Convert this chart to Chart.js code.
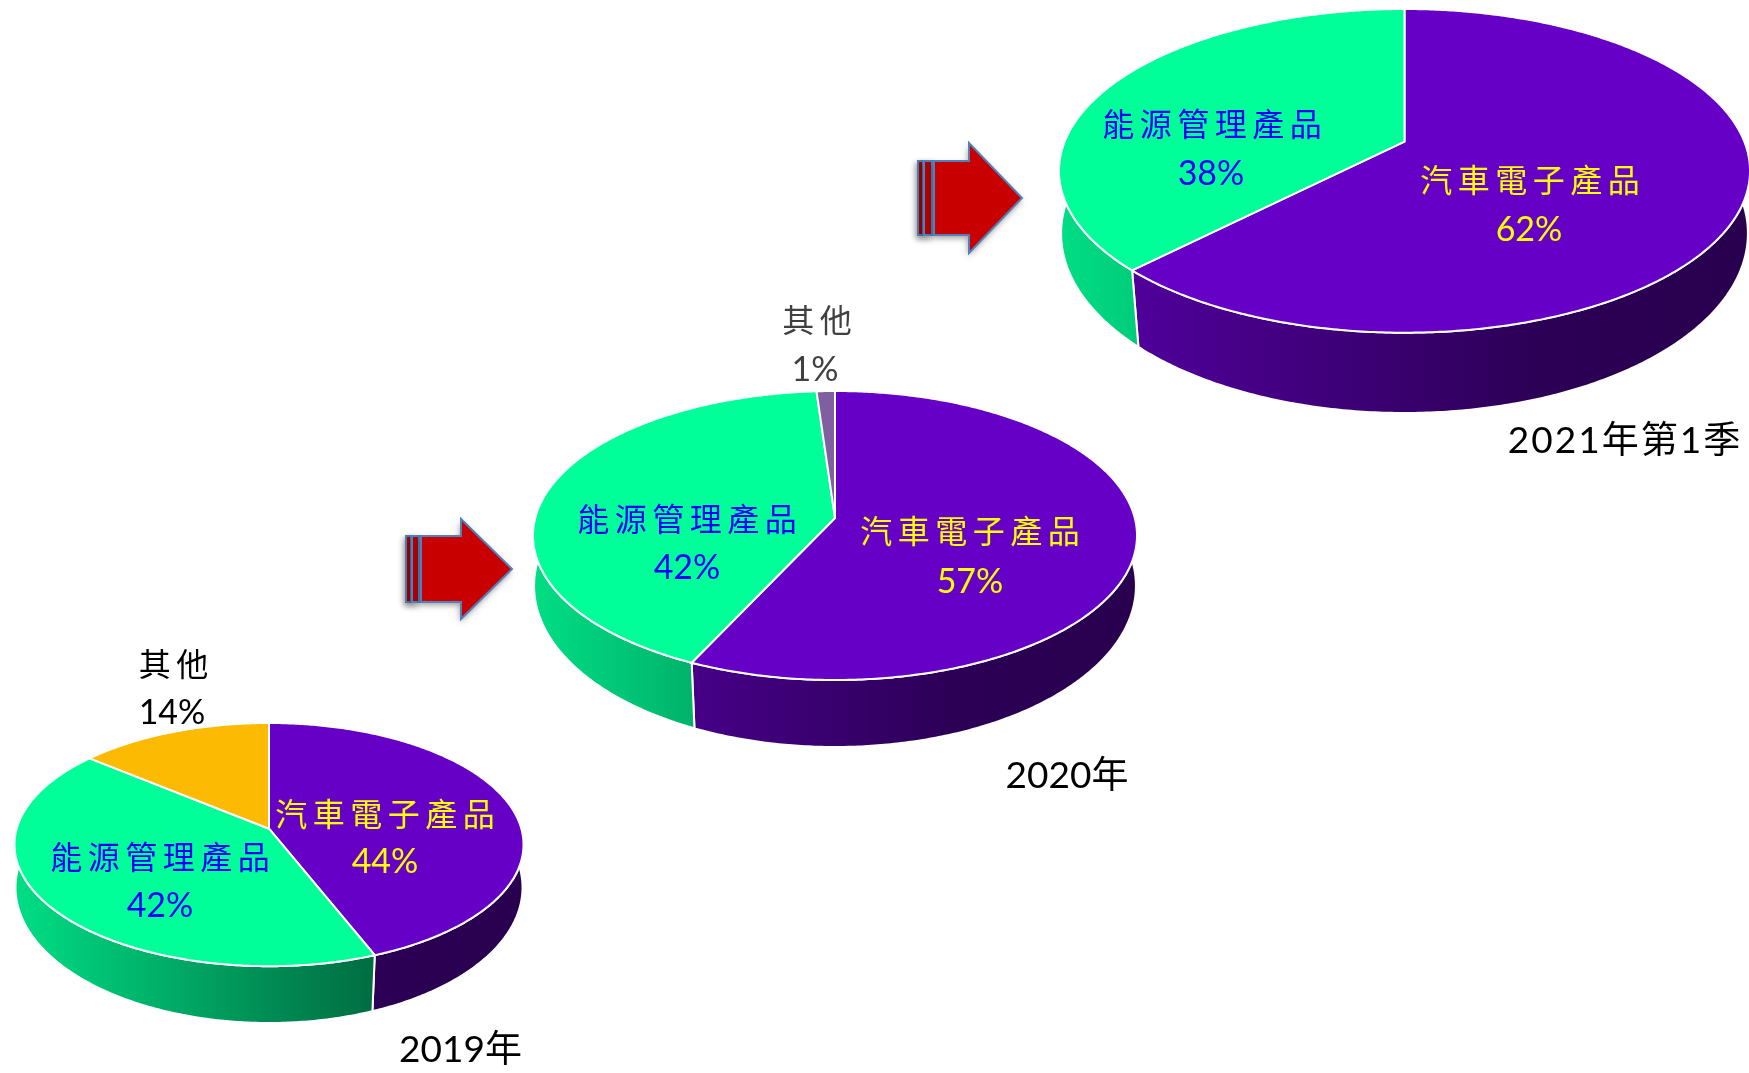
<!DOCTYPE html>
<html>
<head>
<meta charset="utf-8">
<title>產品比重</title>
<style>
  html, body { margin: 0; background: #fff; }
  canvas { display: block; }
</style>
<script src="https://cdn.jsdelivr.net/npm/chart.js@4"></script>
</head>
<body>
<canvas id="pies" width="1749" height="1073"></canvas>
<script>
const categories = ['汽車電子產品', '能源管理產品', '其他'];
const yearLabels = ['2019年', '2020年', '2021年第1季'];
const values2019 = [44, 42, 14];
const values2020 = [57, 41.9, 1.1];
const values2021 = [62.3, 37.7, 0];
const colors2019 = ['#6600c6', '#00ff99', '#fcbb02'];
const colors2020 = ['#6600c6', '#00ff99', '#7f5f9f'];
const colors2021 = ['#6600c6', '#00ff99', '#7f5f9f'];

// where each pie sits: apex, half width, top and bottom reach, lowest point of the wall
const pieLayout = [
    { x: 269, y: 828.7, halfW: 254.5, top: 105.7, bottom: 137.5, lowest: 194.3 },
    { x: 835, y: 518, halfW: 302, top: 127, bottom: 162, lowest: 229 },
    { x: 1404.5, y: 141.7, halfW: 345.5, top: 132.7, bottom: 191, lowest: 271.3 }
];

// label anchors per pie, per category: [name x, name y, value x, value y]
const labelSpots = [
    [[385, 814, 385, 862], [160, 857, 160, 906], [173.5, 664, 172, 713]],
    [[970, 531, 970, 582], [687, 519, 687, 568], [817, 320, 815, 370]],
    [[1530, 180, 1529, 230], [1212, 124, 1211, 174], null]
];
const labelColors = ['#ffff00', '#0000ff', '#000000'];
const otherColors = ['#000000', '#404040', '#000000'];
const yearSpots = [[460.5, 1050], [1067, 776], [1624, 441]];

// block arrows: stem left, stripe ends, main start, head base, tip, mid y, half head, half stem
const arrows = [
    { left: 406, s1: 411, s2: 412, s3: 419, main: 421, base: 461, tip: 512, mid: 569, head: 50, stem: 33 },
    { left: 918, s1: 923, s2: 924, s3: 932, main: 934, base: 969, tip: 1022, mid: 198, head: 55, stem: 37 }
];

const latin = 'Lato, "Noto Sans CJK TC"';
const cjk = '"Noto Sans CJK TC", Lato';

function shade(hex, f) {
    const n = parseInt(hex.slice(1), 16);
    const r = Math.round((n >> 16 & 255) * f);
    const g = Math.round((n >> 8 & 255) * f);
    const b = Math.round((n & 255) * f);
    return `rgb(${r},${g},${b})`;
}

// perspective of a round disk seen from above
function projector(x, y, rx, ry, k) {
    return (theta) => {
        const u = Math.sin(theta);
        const v = -Math.cos(theta);
        const w = 1 - k * v;
        return [x + rx * u / w, y + ry * v / w];
    };
}

function arcPoints(project, from, to) {
    const steps = Math.max(2, Math.ceil(Math.abs(to - from) / 0.01));
    const pts = [];
    for (let i = 0; i <= steps; i++) {
        pts.push(project(from + (to - from) * i / steps));
    }
    return pts;
}

function tracePath(ctx, pts) {
    ctx.beginPath();
    pts.forEach((pt, i) => (i ? ctx.lineTo(pt[0], pt[1]) : ctx.moveTo(pt[0], pt[1])));
    ctx.closePath();
}

function drawPie(chart, index) {
    const ctx = chart.ctx;
    const p = pieLayout[index];
    const meta = chart.getDatasetMeta(index);
    const k = (p.bottom - p.top) / (p.bottom + p.top);
    const ry = p.bottom * (1 - k);
    const rx = p.halfW * Math.sqrt(1 - k * k);
    const topFace = projector(p.x, p.y, rx, ry, k);
    // the foot of the wall has less perspective than the rim
    const lowK = k * 0.85;
    const lowRy = ry * 1.12;
    const drop = p.lowest - lowRy / (1 - lowK);
    const lowFace = projector(p.x, p.y + drop, rx * 0.9985, lowRy, lowK);
    const slices = meta.data
        .map((arc, i) => {
            const a = arc.getProps(['startAngle', 'endAngle'], true);
            return { i, color: arc.options.backgroundColor, from: a.startAngle + Math.PI / 2, to: a.endAngle + Math.PI / 2 };
        })
        .filter(s => s.to - s.from > 0.0001);

    ctx.lineJoin = 'round';
    // walls first, the top face hides whatever is at the back
    slices.forEach(s => {
        const grad = ctx.createLinearGradient(p.x - p.halfW, 0, p.x + p.halfW, 0);
        grad.addColorStop(0, shade(s.color, s.i === 0 ? 0.84 : 0.87));
        grad.addColorStop(0.5, shade(s.color, 0.55));
        grad.addColorStop(0.7, shade(s.color, 0.43));
        grad.addColorStop(1, shade(s.color, 0.4));
        const pts = arcPoints(topFace, s.from, s.to).concat(arcPoints(lowFace, s.to, s.from));
        tracePath(ctx, pts);
        ctx.fillStyle = grad;
        ctx.fill();
        ctx.strokeStyle = '#fff';
        ctx.lineWidth = 2;
        ctx.stroke();
    });
    slices.forEach(s => {
        const pts = [[p.x, p.y]].concat(arcPoints(topFace, s.from, s.to));
        tracePath(ctx, pts);
        ctx.fillStyle = s.color;
        ctx.fill();
        ctx.strokeStyle = '#fff';
        ctx.lineWidth = 2;
        ctx.stroke();
    });
}

function drawArrow(ctx, a) {
    const top = a.mid - a.stem;
    const low = a.mid + a.stem;
    ctx.save();
    ctx.lineWidth = 2;
    ctx.lineJoin = 'miter';
    ctx.fillStyle = '#c80000';
    ctx.strokeStyle = '#4f81bd';
    ctx.shadowColor = 'rgba(0,0,0,0.4)';
    ctx.shadowBlur = 6;
    ctx.shadowOffsetX = -1;
    ctx.shadowOffsetY = 3;
    [[a.left, a.s1], [a.s2, a.s3]].forEach(strip => {
        ctx.fillRect(strip[0], top, strip[1] - strip[0], low - top);
        ctx.strokeRect(strip[0], top, strip[1] - strip[0], low - top);
    });
    tracePath(ctx, [
        [a.main, top], [a.base, top], [a.base, a.mid - a.head], [a.tip, a.mid],
        [a.base, a.mid + a.head], [a.base, low], [a.main, low]
    ]);
    ctx.fill();
    ctx.shadowColor = 'transparent';
    ctx.stroke();
    ctx.restore();
}

function drawText(ctx, text, x, y, font, color, spacing) {
    ctx.font = font;
    ctx.fillStyle = color;
    ctx.letterSpacing = spacing + 'px';
    // letter spacing also trails the last glyph, so shift back by half of it
    ctx.fillText(text, x + spacing / 2, y);
}

function drawLabels(chart, index) {
    const ctx = chart.ctx;
    const values = chart.data.datasets[index].data;
    ctx.save();
    ctx.textAlign = 'center';
    ctx.textBaseline = 'middle';
    values.forEach((value, i) => {
        const spot = labelSpots[index][i];
        if (!spot) return;
        const color = i === 2 ? otherColors[index] : labelColors[i];
        drawText(ctx, categories[i], spot[0], spot[1], `32px ${cjk}`, color, 5.5);
        drawText(ctx, Math.round(value) + '%', spot[2], spot[3], `34px ${latin}`, color, 0);
    });
    drawText(ctx, yearLabels[index], yearSpots[index][0], yearSpots[index][1], `37px ${latin}`, '#000', index === 2 ? 2 : 0);
    ctx.restore();
}

const pie3d = {
    id: 'pie3d',
    beforeDatasetsDraw(chart) {
        pieLayout.forEach((p, i) => drawPie(chart, i));
        arrows.forEach(a => drawArrow(chart.ctx, a));
        pieLayout.forEach((p, i) => drawLabels(chart, i));
        return false; // the arcs are painted above, from the angles the library worked out
    }
};

new Chart(document.getElementById('pies'), {
    type: 'pie',
    data: {
        labels: categories,
        datasets: [
            { label: yearLabels[0], data: values2019, backgroundColor: colors2019 },
            { label: yearLabels[1], data: values2020, backgroundColor: colors2020 },
            { label: yearLabels[2], data: values2021, backgroundColor: colors2021 }
        ]
    },
    options: {
        responsive: false,
        animation: false,
        plugins: { legend: { display: false }, tooltip: { enabled: false } }
    },
    plugins: [pie3d]
});
</script>
</body>
</html>
